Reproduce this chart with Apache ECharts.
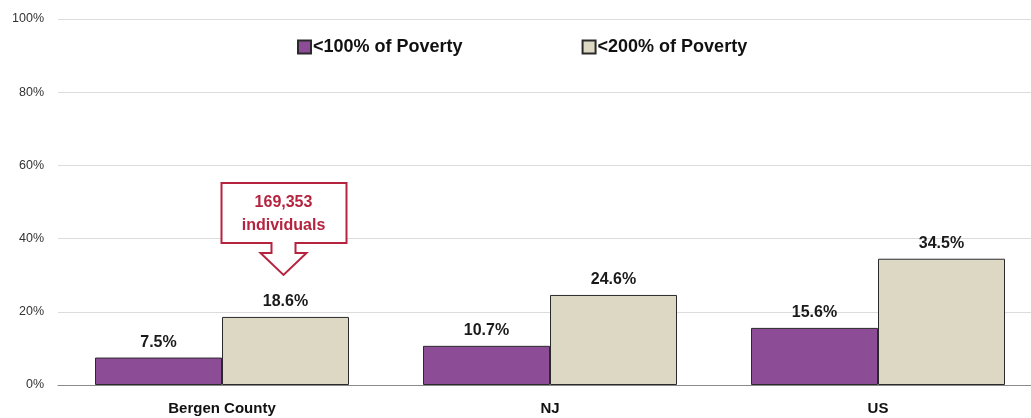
<!DOCTYPE html>
<html><head><meta charset="utf-8">
<script src="https://cdn.jsdelivr.net/npm/echarts@6/dist/echarts.min.js"></script>
<style>html,body{margin:0;padding:0;background:#fff;overflow:hidden;width:1031px;height:418px}#c{width:1042px;height:418px}</style>
</head><body><div id="c"></div>
<script>
var categories = ['Bergen County', 'NJ', 'US'];
var below100 = [7.5, 10.7, 15.6];
var below200 = [18.6, 24.6, 34.5];
var seriesNames = ['<100% of Poverty', '<200% of Poverty'];
var yTicks = [0, 20, 40, 60, 80, 100];
var calloutLines = ['169,353', 'individuals'];

var FONT = "'Liberation Sans', Arial, sans-serif";
var chart = echarts.init(document.getElementById('c'));
var labelStyle = {show: true, position: 'top', distance: 7, formatter: function(p){return p.value.toFixed(1)+'%';},
  fontFamily: FONT, fontWeight: 'bold', fontSize: 16, color: '#1a1a1a'};
chart.setOption({
  animation: false,
  textStyle: {fontFamily: FONT},
  grid: {left: 58, right: 0, top: 19, bottom: 33, containLabel: false},
  legend: {
    left: 292, top: 33, itemWidth: 13, itemHeight: 13, itemGap: 119, icon: 'rect',
    textStyle: {fontFamily: FONT, fontWeight: 'bold', fontSize: 18, color: '#111', padding: [0,0,0,-3]},
    data: seriesNames
  },
  xAxis: {
    type: 'category', data: categories,
    axisLine: {lineStyle: {color: '#8a8a8a', width: 1}},
    axisTick: {show: false},
    axisLabel: {fontFamily: FONT, fontWeight: 'bold', fontSize: 15, color: '#111', margin: 16}
  },
  yAxis: {
    type: 'value', min: yTicks[0], max: yTicks[yTicks.length-1], interval: 20,
    axisLine: {show: false}, axisTick: {show: false},
    splitLine: {lineStyle: {color: '#dcdcdc', width: 1}},
    axisLabel: {formatter: '{value}%', fontFamily: FONT, fontSize: 12.5, color: '#333', margin: 14}
  },
  series: [
    {name: seriesNames[0], type: 'bar', data: below100, barWidth: 127, barGap: '0%',
     itemStyle: {color: '#8c4c96', borderColor: '#2a2a2a', borderWidth: 1}, label: labelStyle},
    {name: seriesNames[1], type: 'bar', data: below200, barWidth: 127, barGap: '0%',
     itemStyle: {color: '#ddd8c3', borderColor: '#2a2a2a', borderWidth: 1}, label: labelStyle}
  ]
});

// Callout anchored to the Bergen County <200% bar
var lay = chart.getModel().getSeriesByIndex(1).getData().getItemLayout(0);
var tx = lay.x + lay.width / 2 - 2;
var ty = lay.y + lay.height - 42;
var rel = [[-62,-92],[63,-92],[63,-32],[12,-32],[12,-22],[23,-22],[0,0],[-23,-22],[-12,-22],[-12,-32],[-62,-32]];
var pts = rel.map(function(p){return [tx+p[0], ty+p[1]];});
chart.setOption({graphic: [
  {type: 'polygon', shape: {points: pts}, style: {fill: '#fff', stroke: '#b5233f', lineWidth: 2}, z: 100},
  {type: 'text', x: tx, y: ty-84, style: {text: calloutLines.join('\n'), fill: '#b5233f', font: 'bold 16px ' + FONT, align: 'center', verticalAlign: 'top', lineHeight: 23}, z: 101}
]});
</script></body></html>
